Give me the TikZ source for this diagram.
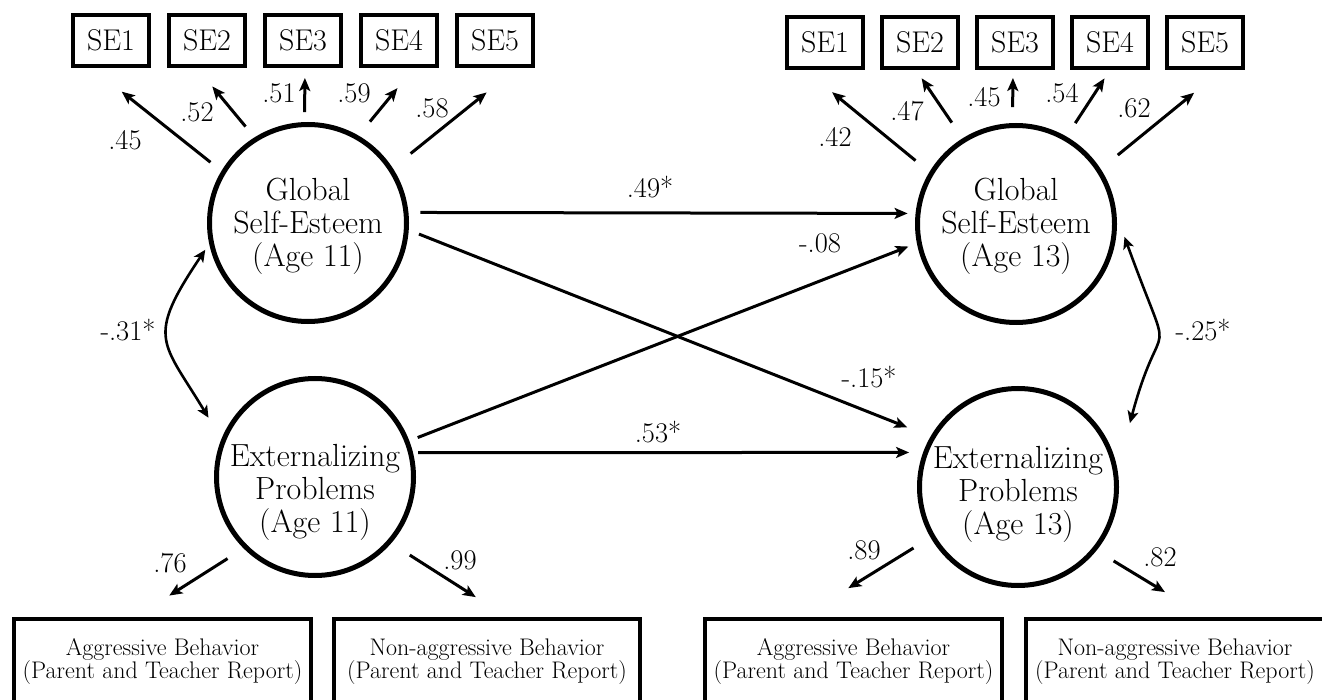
\documentclass[tikz,border=0pt]{standalone}
\usepackage{fontspec}
\usetikzlibrary{arrows.meta,positioning}
\newcommand{\SemLatFont}{\fontsize{32}{33}\selectfont}
\newcommand{\SemObsFont}{\fontsize{30}{32}\selectfont}
\newcommand{\SemCoefFont}{\fontsize{28.5}{30}\selectfont}
\newcommand{\SemIndFont}{\fontsize{24}{23.5}\selectfont}
\tikzset{
  every node/.style={align=center},
  %% latent factors
  latent/.style={
    circle, draw=black,
    line width=5pt,
    minimum size=197pt,
    inner sep=0pt,
  },
  latText/.style={
    font=\SemLatFont,
    inner sep=0pt,
  },
  %% observed indicators
  obsBox/.style={
    draw=black,
    line width=4pt,
    minimum width=76pt,
    minimum height=51pt,
    inner sep=0pt,
    font=\SemObsFont,
  },
  indBox/.style={
    draw=black,
    line width=4pt,
    minimum height=85pt,
    anchor=north,
    inner sep=0pt,
    font=\SemIndFont,
  },
  %% coefficients
  coef/.style={
    font=\SemCoefFont,
    inner sep=0pt,
  },
  %% arrows
  arr/.style={
    -{Stealth[length=13pt,width=11pt,inset=3pt]},
    line width=3pt,
  },
  covArr/.style={
    {Stealth[length=12pt,width=11pt,inset=3pt]}-{Stealth[length=12pt,width=11pt,inset=3pt]},
    line width=2.6pt,
  },
}

\begin{document}
\begin{tikzpicture}[x=1pt,y=1pt]

\path[fill=white,use as bounding box] (0,0) rectangle (1322,-700);
\clip (0,0) rectangle (1322,-700);

%%═══════════════════════════════ LATENT FACTORS ══════════════════════════════
\node[latent] (G11) at (308,-223) {};
\node[latent] (E11) at (315,-477) {};
\node[latent] (G13) at (1016,-224) {};
\node[latent] (E13) at (1018,-487) {};

\node[latText] (G11t) at ([yshift=-3pt]G11.center) {Global\\Self-Esteem\\(Age 11)};
\node[latText] (E11t) at ([yshift=-15pt]E11.center) {Externalizing\\Problems\\(Age 11)};
\node[latText] (G13t) at ([yshift=-2pt]G13.center) {Global\\Self-Esteem\\(Age 13)};
\node[latText] (E13t) at ([yshift=-7pt]E13.center) {Externalizing\\Problems\\(Age 13)};

%% ── Self-esteem items, age 11 ──────────────────────────────────────────────
\node[obsBox] (SE1a) at (111,-40.5) {SE1};
\node[obsBox, right=16pt of SE1a] (SE2a) {SE2};
\node[obsBox, right=16pt of SE2a] (SE3a) {SE3};
\node[obsBox, right=16pt of SE3a] (SE4a) {SE4};
\node[obsBox, right=16pt of SE4a] (SE5a) {SE5};

%% ── Self-esteem items, age 13 ──────────────────────────────────────────────
\node[obsBox] (SE1b) at (825,-42.5) {SE1};
\node[obsBox, right=15pt of SE1b] (SE2b) {SE2};
\node[obsBox, right=15pt of SE2b] (SE3b) {SE3};
\node[obsBox, right=15pt of SE3b] (SE4b) {SE4};
\node[obsBox, right=15pt of SE4b] (SE5b) {SE5};

%% ── Behaviour reports ──────────────────────────────────────────────────────
\node[indBox, minimum width=297pt] (AggL) at (162.5,-617) {%
  Aggressive Behavior\\(Parent and Teacher Report)};
\node[indBox, minimum width=306pt, right=19pt of AggL] (NonL) {%
  Non-aggressive Behavior\\(Parent and Teacher Report)};
\node[indBox, minimum width=297pt] (AggR) at (853.5,-617) {%
  Aggressive Behavior\\(Parent and Teacher Report)};
\node[indBox, minimum width=298pt] (NonR) at (1175,-617) {%
  Non-aggressive Behavior\\(Parent and Teacher Report)};

%% ── Loadings, age 11 ───────────────────────────────────────────────────────
\draw[arr, shorten <=14pt, shorten >=38pt] (G11.149) -- ([xshift=-19pt]SE1a.south);
\draw[arr, shorten <=14pt, shorten >=24pt] (G11.122) -- ([xshift=-10pt]SE2a.south);
\draw[arr, shorten <=10pt, shorten >=10pt] (G11.92)  -- ([xshift=2pt]SE3a.south);
\draw[arr, shorten <=18pt, shorten >=26pt] (G11.60)  -- ([xshift=15pt]SE4a.south);
\draw[arr, shorten <=23pt, shorten >=39pt] (G11.33)  -- ([xshift=22pt]SE5a.south);
\draw[arr, shorten <=19pt, shorten >=40pt] (E11.225) -- ([xshift=-27pt]AggL.north);
\draw[arr, shorten <=22pt, shorten >=37pt] (E11.-41) -- ([xshift=20pt]NonL.north);

\node[coef] (cSE1a) at (125,-140) {.45};
\node[coef] (cSE2a) at (197,-112) {.52};
\node[coef] (cSE3a) at (279,-93)  {.51};
\node[coef] (cSE4a) at (354,-93)  {.59};
\node[coef] (cSE5a) at (432,-108) {.58};
\node[coef] (cAggL) at (170,-563) {.76};
\node[coef] (cNonL) at (460,-560) {.99};

%% ── Loadings, age 13 ───────────────────────────────────────────────────────
\draw[arr, shorten <=18pt, shorten >=35pt] (G13.149) -- ([xshift=-20pt]SE1b.south);
\draw[arr, shorten <=19pt, shorten >=10pt] (G13.122) -- ([xshift=-4pt]SE2b.south);
\draw[arr, shorten <=16pt, shorten >=8pt]  (G13.92)  -- ([xshift=-2pt]SE3b.south);
\draw[arr, shorten <=16pt, shorten >=10pt] (G13.60)  -- (SE4b.south);
\draw[arr, shorten <=22pt, shorten >=36pt] (G13.33)  -- ([xshift=17pt]SE5b.south);
\draw[arr, shorten <=20pt, shorten >=55pt] (E13.210) -- ([xshift=-52pt]AggR.north);
\draw[arr, shorten <=20pt, shorten >=48pt] (E13.-39) -- ([xshift=31pt]NonR.north);

\node[coef] (cSE1b) at (835,-137)  {.42};
\node[coef] (cSE2b) at (907,-111)  {.47};
\node[coef] (cSE3b) at (984,-97)   {.45};
\node[coef] (cSE4b) at (1062,-93)  {.54};
\node[coef] (cSE5b) at (1134,-108) {.62};
\node[coef] (cAggR) at (864,-550)  {.89};
\node[coef] (cNonR) at (1160,-557) {.82};

%% ── Cross-lagged paths ─────────────────────────────────────────────────────
\draw[arr, shorten <=12pt, shorten >=8pt]  (G11.6)   -- (G13.174);
\draw[arr, shorten <=5pt,  shorten >=14pt] (E11.14)  -- (E13.160);
\draw[arr, shorten <=11pt, shorten >=25pt] (G11.-4)  -- (E13.150);
\draw[arr, shorten <=9pt,  shorten >=9pt]  (E11.21)  -- (G13.191);

\node[coef] (cGG) at (650,-187) {.49*};
\node[coef] (cEG) at (820,-243) {-.08};
\node[coef] (cGE) at (869,-377) {-.15*};
\node[coef] (cEE) at (658,-432) {.53*};

%% ── Within-time covariances ────────────────────────────────────────────────
\draw[covArr, shorten <=7pt, shorten >=25pt]
  (G11.192) to[out=236, in=121, looseness=1.5] (E11.158);
\draw[covArr, shorten <=23pt, shorten >=48pt]
  (G13.5) to[out=-70, in=75, looseness=1.75] (E13.10);

\node[coef] (cCov11) at (128,-330)  {-.31*};
\node[coef] (cCov13) at (1203,-330) {-.25*};

\end{tikzpicture}
\end{document}
